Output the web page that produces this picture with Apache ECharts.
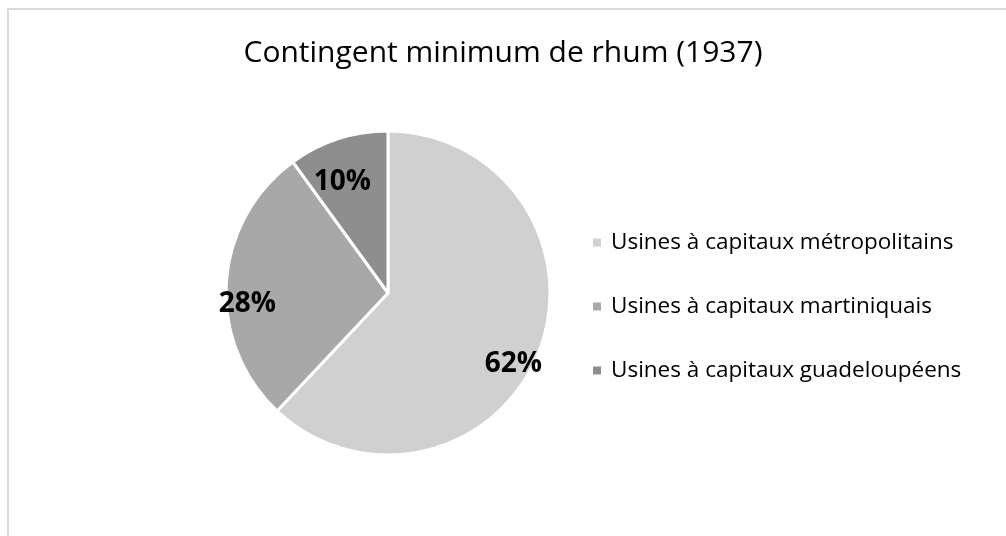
<!DOCTYPE html>
<html>
<head>
<meta charset="utf-8">
<script src="https://cdn.jsdelivr.net/npm/echarts@6/dist/echarts.min.js"></script>
<style>
  html, body { margin: 0; padding: 0; background: #fff; }
  #wrap { position: relative; width: 1006px; height: 536px; overflow: hidden; }
  #frame {
    position: absolute; left: 7px; top: 8px; width: 1100px; height: 600px;
    border: 2px solid #d9d9d9; box-sizing: border-box;
  }
  #chart { position: absolute; left: 0; top: 0; width: 1006px; height: 536px; }
</style>
</head>
<body>
<div id="wrap">
  <div id="frame"></div>
  <div id="chart"></div>
</div>
<script>
const titleText = "Contingent minimum de rhum (1937)";
const categories = [
  "Usines à capitaux métropolitains",
  "Usines à capitaux martiniquais",
  "Usines à capitaux guadeloupéens"
];
const shares = [62, 28, 10];
const colors = ["#d0d0d0", "#a8a8a8", "#8e8e8e"];

const fontFamily = "'Open Sans', 'Noto Sans', sans-serif";

const pieData = categories.map((name, i) => ({ name, value: shares[i] }));

const chart = echarts.init(document.getElementById("chart"), null, { renderer: "canvas" });

const option = {
  backgroundColor: "transparent",
  animation: false,
  color: colors,
  title: {
    text: titleText,
    left: "center",
    top: 33,
    textStyle: {
      fontFamily,
      fontSize: 30,
      fontWeight: "normal",
      color: "#000"
    }
  },
  legend: {
    orient: "vertical",
    left: 586,
    top: 226,
    itemWidth: 10,
    itemHeight: 10,
    itemGap: 41,
    icon: "rect",
    data: categories,
    textStyle: {
      fontFamily,
      fontSize: 22.5,
      color: "#000",
      padding: [0, 0, 0, 4]
    }
  },
  series: [
    {
      // the pie itself
      type: "pie",
      center: [388, 293],
      radius: [0, 162],
      startAngle: 90,
      clockwise: true,
      silent: true,
      itemStyle: { borderColor: "#fff", borderWidth: 3 },
      label: { show: false },
      labelLine: { show: false },
      data: pieData
    },
    {
      // transparent ring just to put the percent labels further out
      type: "pie",
      center: [388, 293],
      radius: [108, 162],
      startAngle: 90,
      clockwise: true,
      silent: true,
      itemStyle: { color: "transparent", borderWidth: 0 },
      label: {
        show: true,
        position: "inside",
        formatter: "{c}%",
        offset: [-3, 20],
        fontFamily,
        fontSize: 28,
        fontWeight: "bold",
        color: "#000"
      },
      labelLine: { show: false },
      data: pieData
    }
  ]
};

chart.setOption(option);
</script>
</body>
</html>
